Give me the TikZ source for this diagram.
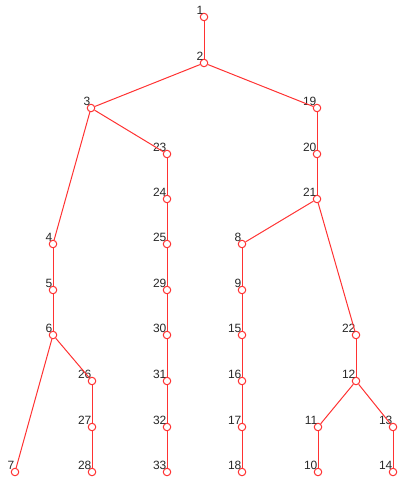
\documentclass[tikz,border=0pt]{standalone}
\usepackage{fontspec}
\setmainfont{Liberation Sans}
\usepackage{xcolor}
\usepackage{tikz}
\definecolor{edgered}{RGB}{255,50,50}
\definecolor{labgray}{RGB}{40,40,40}

\begin{document}
\begin{tikzpicture}[x=1pt,y=-1pt,
  vx/.style={circle,draw=edgered,line width=1pt,minimum size=7.5pt,inner sep=0pt,
             label={[lbl,xshift=2.6pt,yshift=-0.4pt]north west:#1}},
  lbl/.style={inner sep=0pt,text=labgray,font=\fontsize{12}{14}\selectfont},
  ed/.style={draw=edgered,line width=1pt}]
  \useasboundingbox (0,0) rectangle (398,481);
  % top of the tree
  \node[vx=1] (n1) at (204,17) {};
  \node[vx=2] (n2) at (204,63) {};
  \node[vx=3] (n3) at (91,108) {};
  \node[vx=19] (n19) at (317,108) {};
  % left branch
  \node[vx=4] (n4) at (53,244) {};
  \node[vx=5] (n5) at (53,290) {};
  \node[vx=6] (n6) at (53,335) {};
  \node[vx=7] (n7) at (15,472) {};
  \node[vx=26] (n26) at (92,381) {};
  \node[vx=27] (n27) at (92,427) {};
  \node[vx=28] (n28) at (92,472) {};
  \node[vx=23] (n23) at (167,154) {};
  \node[vx=24] (n24) at (167,199) {};
  \node[vx=25] (n25) at (167,244) {};
  \node[vx=29] (n29) at (167,290) {};
  \node[vx=30] (n30) at (167,335) {};
  \node[vx=31] (n31) at (167,381) {};
  \node[vx=32] (n32) at (167,427) {};
  \node[vx=33] (n33) at (167,472) {};
  % right branch
  \node[vx=20] (n20) at (317,154) {};
  \node[vx=21] (n21) at (317,199) {};
  \node[vx=8] (n8) at (242,244) {};
  \node[vx=9] (n9) at (242,290) {};
  \node[vx=15] (n15) at (242,335) {};
  \node[vx=16] (n16) at (242,381) {};
  \node[vx=17] (n17) at (242,427) {};
  \node[vx=18] (n18) at (242,472) {};
  \node[vx=22] (n22) at (356,335) {};
  \node[vx=12] (n12) at (356,381) {};
  \node[vx=11] (n11) at (318,427) {};
  \node[vx=10] (n10) at (318,472) {};
  \node[vx=13] (n13) at (393,427) {};
  \node[vx=14] (n14) at (393,472) {};
  % edges
  \draw[ed] (n1) -- (n2);
  \draw[ed] (n2) -- (n3);
  \draw[ed] (n2) -- (n19);
  \draw[ed] (n3) -- (n4);
  \draw[ed] (n3) -- (n23);
  \draw[ed] (n4) -- (n5);
  \draw[ed] (n5) -- (n6);
  \draw[ed] (n6) -- (n7);
  \draw[ed] (n6) -- (n26);
  \draw[ed] (n26) -- (n27);
  \draw[ed] (n27) -- (n28);
  \draw[ed] (n23) -- (n24);
  \draw[ed] (n24) -- (n25);
  \draw[ed] (n25) -- (n29);
  \draw[ed] (n29) -- (n30);
  \draw[ed] (n30) -- (n31);
  \draw[ed] (n31) -- (n32);
  \draw[ed] (n32) -- (n33);
  \draw[ed] (n19) -- (n20);
  \draw[ed] (n20) -- (n21);
  \draw[ed] (n21) -- (n8);
  \draw[ed] (n21) -- (n22);
  \draw[ed] (n8) -- (n9);
  \draw[ed] (n9) -- (n15);
  \draw[ed] (n15) -- (n16);
  \draw[ed] (n16) -- (n17);
  \draw[ed] (n17) -- (n18);
  \draw[ed] (n22) -- (n12);
  \draw[ed] (n12) -- (n11);
  \draw[ed] (n12) -- (n13);
  \draw[ed] (n11) -- (n10);
  \draw[ed] (n13) -- (n14);
\end{tikzpicture}
\end{document}
